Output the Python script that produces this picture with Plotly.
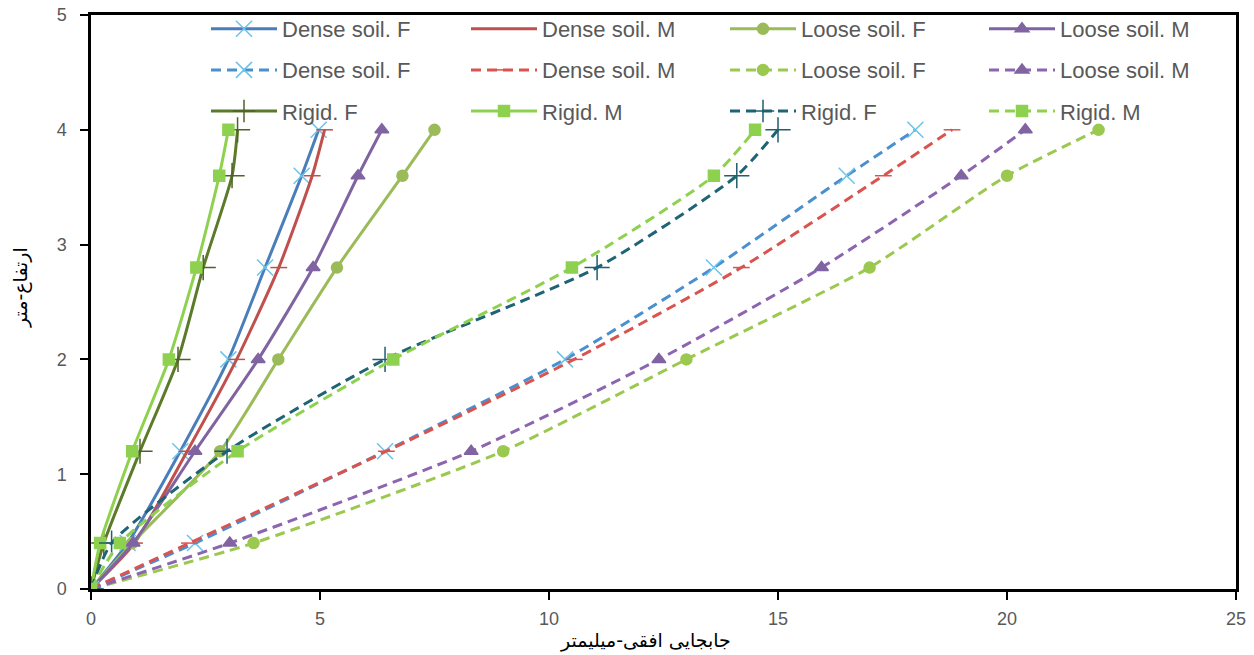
import plotly.graph_objects as go

heights = [0, 0.4, 1.2, 2, 2.8, 3.6, 4]

# Solid series
dense_f_solid = [0, 0.8, 1.95, 3.0, 3.8, 4.6, 4.97]
dense_m_solid = [0, 0.95, 2.1, 3.18, 4.1, 4.83, 5.1]
loose_f_solid = [0, 0.9, 2.82, 4.09, 5.37, 6.8, 7.5]
loose_m_solid = [0, 0.92, 2.27, 3.65, 4.85, 5.83, 6.35]
# Dashed series
dense_f_dash = [0, 2.27, 6.42, 10.35, 13.6, 16.5, 18.0]
dense_m_dash = [0, 2.15, 6.45, 10.55, 14.2, 17.3, 18.8]
loose_f_dash = [0, 3.55, 9.0, 13.0, 17.0, 20.0, 22.0]
loose_m_dash = [0, 3.03, 8.3, 12.4, 15.95, 19.0, 20.4]
# Rigid
rigid_f_solid = [0, 0.28, 1.07, 1.9, 2.45, 3.08, 3.2]
rigid_m_solid = [0, 0.2, 0.9, 1.7, 2.3, 2.8, 3.0]
rigid_f_dash = [0, 0.45, 2.97, 6.42, 11.05, 14.1, 15.0]
rigid_m_dash = [0, 0.63, 3.2, 6.6, 10.5, 13.6, 14.5]

names = ["Dense soil. F", "Dense soil. M", "Loose soil. F", "Loose soil. M",
         "Dense soil. F", "Dense soil. M", "Loose soil. F", "Loose soil. M",
         "Rigid. F", "Rigid. M", "Rigid. F", "Rigid. M"]

series = [dense_f_solid, dense_m_solid, loose_f_solid, loose_m_solid,
          dense_f_dash, dense_m_dash, loose_f_dash, loose_m_dash,
          rigid_f_solid, rigid_m_solid, rigid_f_dash, rigid_m_dash]

x_title = "جابجایی افقی-میلیمتر"
y_title = "ارتفاع-متر"

line_colors = ["#4A7EBB", "#C0504D", "#9BBB59", "#8064A2",
               "#4A8FD0", "#D9534F", "#9BC84F", "#8C64B0",
               "#5B7A2A", "#8ED14F", "#1F6474", "#8ED14F"]
dashes = ["solid"] * 4 + ["10px,6px"] * 4 + ["solid", "solid", "10px,6px", "10px,6px"]
symbols = ["x-thin-open", "line-ew-open", "circle", "triangle-up",
           "x-thin-open", "line-ew-open", "circle", "triangle-up",
           "cross-thin-open", "square", "cross-thin-open", "square"]
marker_colors = ["#6CC3EA", "#C0504D", "#9BBB59", "#8064A2",
                 "#6CC3EA", "#D9534F", "#9BC84F", "#8064A2",
                 "#4F6228", "#8ED14F", "#1F5F6F", "#8ED14F"]
marker_sizes = [16, 12, 11, 12, 16, 12, 11, 12, 18, 11, 18, 11]
# legend columns (4 legends, one per column of the reference legend)
col_of = [0, 1, 2, 3, 0, 1, 2, 3, 0, 1, 2, 3]
legend_ids = ["legend", "legend2", "legend3", "legend4"]

fig = go.Figure()
for i in range(12):
    fig.add_trace(go.Scatter(
        x=series[i], y=heights, name=names[i], mode="lines+markers",
        line=dict(color=line_colors[i], width=3, dash=dashes[i], shape="spline", smoothing=0.6),
        marker=dict(symbol=symbols[i], size=marker_sizes[i], color=marker_colors[i],
                    line=dict(color=marker_colors[i], width=1.5)),
        legend=legend_ids[col_of[i]], legendgroup="g%d" % i,
    ))

# page offset (browser body margin)
OFF = 8
L, R, T, B = 91 - OFF, 18, 15 - OFF, 66
W, H = 1254 - OFF, 655 - OFF
pw, ph = W - L - R, H - T - B


def px_x(px):
    return (px - OFF - L) / pw


def px_y(py):
    return (H - B - (py - OFF)) / ph


col_text_px = [283, 543, 802, 1061]
col_x = [px_x(p - 77) for p in col_text_px]
leg_common = dict(orientation="v", xanchor="left", yanchor="top", y=px_y(8),
                  font=dict(family="Liberation Sans Narrow, Liberation Sans, Arial", size=22, color="#595959"),
                  bgcolor="rgba(0,0,0,0)", itemwidth=66, tracegroupgap=9.5, traceorder="grouped")

legend_layout = {}
for k, lid in enumerate(legend_ids):
    legend_layout[lid] = dict(leg_common, x=col_x[k])

fig.update_layout(
    width=W, height=H,
    margin=dict(l=L, r=R, t=T, b=B, autoexpand=False),
    paper_bgcolor="white", plot_bgcolor="white",
    font=dict(family="Liberation Sans, Arial", color="#595959"),
    xaxis=dict(range=[0, 25], tickvals=[0, 5, 10, 15, 20, 25], showgrid=False, zeroline=False,
               showline=True, linecolor="black", linewidth=2.5, mirror=True,
               ticks="outside", ticklen=8, tickcolor="black", tickwidth=1.5,
               ticklabelstandoff=4, automargin=False, ticklabeloverflow="allow",
               tickfont=dict(size=18, color="#595959")),
    yaxis=dict(range=[0, 5], tickvals=[0, 1, 2, 3, 4, 5], showgrid=False, zeroline=False,
               showline=True, linecolor="black", linewidth=2.5, mirror=True,
               ticks="outside", ticklen=8, tickcolor="black", tickwidth=1.5,
               ticklabelstandoff=10, automargin=False, ticklabeloverflow="allow",
               tickfont=dict(size=18, color="#595959")),
    annotations=[
        dict(text=x_title, x=px_x(645), y=px_y(640), xref="paper", yref="paper", showarrow=False,
             xanchor="center", yanchor="middle",
             font=dict(family="DejaVu Sans", size=19, color="#000000")),
        dict(text=y_title, x=px_x(20), y=px_y(288), xref="paper", yref="paper", showarrow=False,
             xanchor="center", yanchor="middle", textangle=-90,
             font=dict(family="DejaVu Sans", size=19, color="#000000")),
    ],
    **legend_layout,
)

fig.write_html("out.html")
